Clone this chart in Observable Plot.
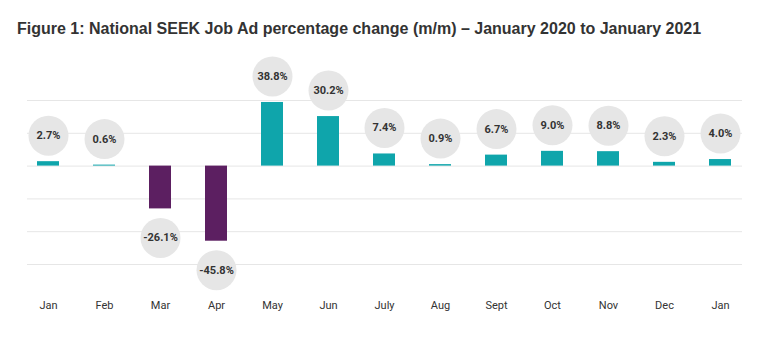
<!DOCTYPE html>
<html>
<head>
<meta charset="utf-8">
<script src="https://cdn.jsdelivr.net/npm/d3@7"></script>
<script src="https://cdn.jsdelivr.net/npm/@observablehq/plot@0.6"></script>
<style>
  html, body { margin: 0; padding: 0; background: #fff; }
  #title { font-family: "Liberation Sans", Arial, sans-serif; font-weight: bold; font-size: 16px; color: #333; padding: 20px 0 0 17px; height: 18px; line-height: 18px; }
  #chart svg { display: block; }
</style>
</head>
<body>
<div id="title">Figure 1: National SEEK Job Ad percentage change (m/m) – January 2020 to January 2021</div>
<div id="chart"></div>
<script>
const months = ["Jan","Feb","Mar","Apr","May","Jun","July","Aug","Sept","Oct","Nov","Dec","Jan"];
const values = [2.7, 0.6, -26.1, -45.8, 38.8, 30.2, 7.4, 0.9, 6.7, 9.0, 8.8, 2.3, 4.0];
const labels = ["2.7%","0.6%","-26.1%","-45.8%","38.8%","30.2%","7.4%","0.9%","6.7%","9.0%","8.8%","2.3%","4.0%"];
const gridTicks = [40, 20, 0, -20, -40, -60];

const data = values.map((v, i) => ({i, v, label: labels[i]}));
const pos = data.filter(d => d.v >= 0);
const neg = data.filter(d => d.v < 0);

const chart = Plot.plot({
  width: 767,
  height: 303,
  marginLeft: 27,
  marginRight: 25,
  marginTop: 62,
  marginBottom: 77,
  style: {fontFamily: "Roboto, sans-serif", fontSize: "11px", color: "#333", background: "#fff"},
  x: {type: "band", domain: d3.range(months.length), paddingInner: 0.6, paddingOuter: 0.14, label: null},
  y: {domain: [-60, 40], axis: null},
  marks: [
    Plot.ruleY(gridTicks, {stroke: "#e6e6e6", strokeWidth: 1}),
    Plot.barY(data, {x: "i", y: "v", fill: d => d.v >= 0 ? "#0fa5ab" : "#5c1f61"}),
    Plot.dot(pos, {x: "i", y: "v", r: 20, dy: -26, fill: "#e6e6e6", stroke: null}),
    Plot.dot(neg, {x: "i", y: "v", r: 20, dy: 29, fill: "#e6e6e6", stroke: null}),
    Plot.text(pos, {x: "i", y: "v", text: "label", dy: -26, fontWeight: "bold", fontSize: 11, fill: "#333"}),
    Plot.text(neg, {x: "i", y: "v", text: "label", dy: 29, fontWeight: "bold", fontSize: 11, fill: "#333"}),
    Plot.axisX({tickSize: 0, tickPadding: 37, tickFormat: i => months[i], fontSize: 11, label: null, fill: "#333"})
  ]
});
document.getElementById("chart").appendChild(chart);
</script>
</body>
</html>
